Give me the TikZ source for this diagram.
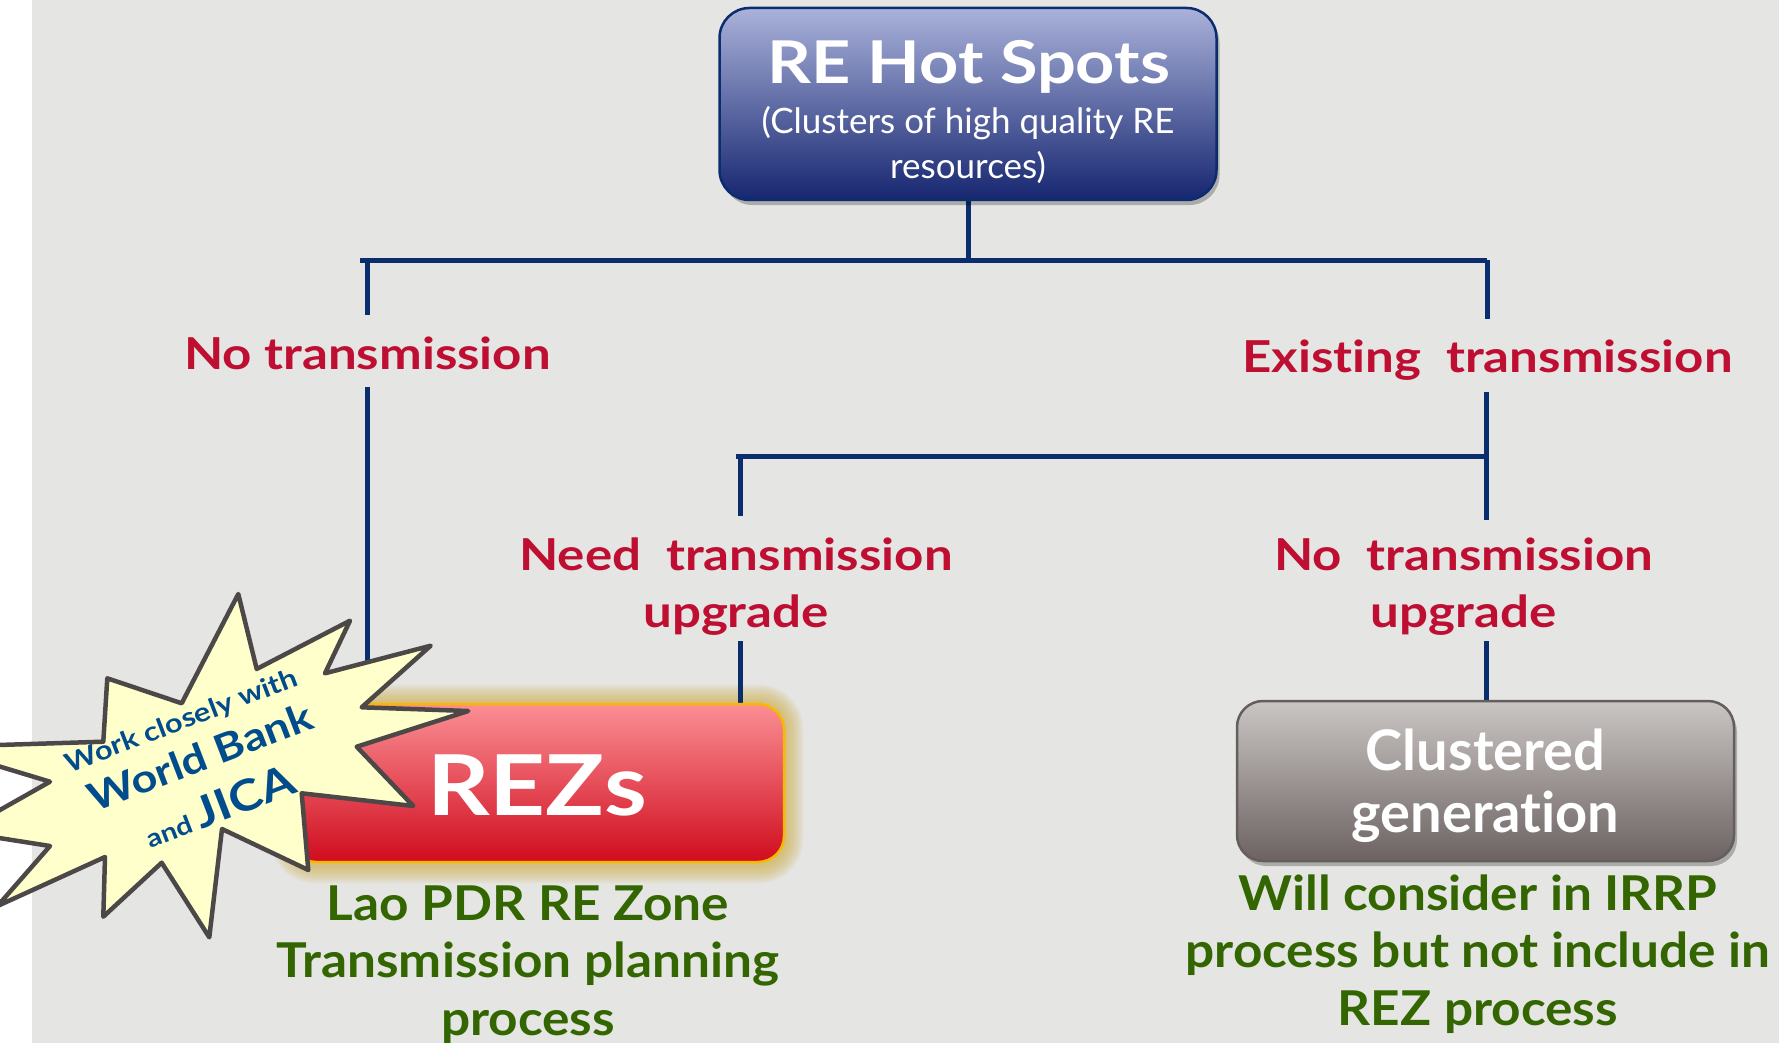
\documentclass[tikz,border=0pt]{standalone}
\usepackage{fontspec}
\setmainfont{Lato}[Ligatures=NoCommon]
\newfontfamily\hb{Lato}[FakeStretch=1.16,Ligatures=NoCommon]
\newfontfamily\gb{Lato}[FakeStretch=1.07,Ligatures=NoCommon]
\usetikzlibrary{calc,shadows}
\definecolor{bggray}{RGB}{229,229,227}
\definecolor{navy}{RGB}{10,45,110}
\definecolor{crim}{RGB}{190,14,50}
\definecolor{grn}{RGB}{51,102,0}
\definecolor{hottop}{RGB}{170,178,218}
\definecolor{hotbot}{RGB}{22,38,112}
\definecolor{reztop}{RGB}{251,143,148}
\definecolor{rezbot}{RGB}{208,12,30}
\definecolor{rezedge}{RGB}{248,184,0}
\definecolor{glowc}{RGB}{205,170,60}
\definecolor{clustop}{RGB}{202,198,196}
\definecolor{clusbot}{RGB}{108,98,98}
\definecolor{clusedge}{RGB}{100,94,94}
\definecolor{staryel}{RGB}{255,255,204}
\definecolor{staredge}{RGB}{77,72,72}
\definecolor{starblue}{RGB}{0,76,140}
\newcommand{\fsz}[2]{\fontsize{#1}{#2}\selectfont}
\pgfdeclarelayer{bgl}
\pgfdeclarelayer{glowl}
\pgfdeclarelayer{linel}
\pgfsetlayers{bgl,glowl,linel,main}
\tikzset{
 link/.style={draw=navy, line width=5pt},
 redlbl/.style={text=crim, font=\hb\bfseries\fsz{44}{57}, inner sep=0pt, align=center},
 grnlbl/.style={text=grn, font=\gb\bfseries\fsz{48}{57.5}, inner sep=0pt, align=center},
 boxsty/.style={rounded corners=26pt, inner sep=0pt, line width=2.5pt},
 shad/.style={drop shadow={shadow xshift=3pt, shadow yshift=-5pt, opacity=0.25, fill=black}},
 startxt/.style={text=starblue, inner sep=0pt, rotate=21},
 starsty/.style={fill=staryel, draw=staredge, line width=4.5pt, line join=round},
}
\begin{document}
\begin{tikzpicture}[x=1pt,y=-1pt]
\useasboundingbox (0,0) rectangle (1779,1043);
\begin{pgfonlayer}{bgl}
\fill[white] (0,0) rectangle (1779,1043);
\fill[bggray] (32,0) rectangle (1779,1043);
\end{pgfonlayer}

% top box
\node[boxsty, rounded corners=30pt, draw=navy, top color=hottop, bottom color=hotbot, minimum width=497pt, minimum height=192pt, shad] (hot) at (968,104) {};
\node[anchor=base, text=white, font=\hb\bfseries\fsz{59}{59}, inner sep=0pt] (hottitle) at (968.8,83.3) {RE Hot Spots};
\node[anchor=base, text=white, font=\fsz{35}{45}, align=center, inner sep=0pt] (hotsub) at (968,178.3) {(Clusters of high quality RE\\resources)};

% labels
\node[redlbl, anchor=base] (notx) at (367.5,369.3) {No transmission};
\node[redlbl, anchor=base] (exist) at (1487.5,372.7) {Existing\ \ transmission};
\node[redlbl, anchor=base] (need) at (736,627) {Need\ \ transmission\\upgrade};
\node[redlbl, anchor=base] (noup) at (1463.7,627) {No\ \ transmission\\upgrade};

% junctions
\coordinate (jtop) at (968,260);
\coordinate (jl) at (367.5,260);
\coordinate (jr) at (1487,260);
\coordinate (jm) at (1486,456);
\coordinate (jn) at (740,456);

% boxes
\node[boxsty, draw=rezedge, top color=reztop, bottom color=rezbot, minimum width=494pt, minimum height=158pt] (rez) at (537,783) {};
\node[anchor=base, text=white, inner sep=0pt, font=\hb\bfseries\fsz{84}{84}] (reztext) at (537,815) {REZs};
\node[boxsty, draw=clusedge, top color=clustop, bottom color=clusbot, minimum width=497pt, minimum height=160pt, shad] (clus) at (1485.5,781) {};
\node[anchor=base, text=white, inner sep=0pt, align=center, font=\bfseries\fsz{56}{62}] (clustext) at (1485.5,832.5) {Clustered\\generation};

% green descriptions
\node[grnlbl, anchor=base] (rezdesc) at (528,1035) {Lao PDR RE Zone\\Transmission planning\\process};
\node[grnlbl, anchor=base] (clusdesc) at (1478,1025) {Will consider in IRRP\\process but not include in\\REZ process};

% glow
\begin{pgfonlayer}{glowl}
\foreach \g in {2,4,...,18}
  \fill[glowc, opacity=0.09, rounded corners={(26+\g)*1pt}] ($(rez.south west)+(-\g,\g+2)$) rectangle ($(rez.north east)+(\g,-\g)$);
\end{pgfonlayer}

% connectors
\begin{pgfonlayer}{linel}
\draw[link] (hot.south) -- (jtop);
\draw[link] ($(jl)+(-8,0)$) -- (jr);
\draw[link] (jl) -- ($(notx.north)+(0,-21)$);
\draw[link] (jr) -- ($(jr |- exist.north)+(0,-21)$);
\draw[link] ($(notx.south)+(0,17)$) -- (notx.south |- rez.north);
\draw[link] ($(jm |- exist.south)+(0,11)$) -- ($(jm |- noup.north)+(0,-17)$);
\draw[link] ($(jn)+(-4,0)$) -- (jm);
\draw[link] (jn) -- ($(jn |- need.north)+(0,-21)$);
\draw[link] ($(jn |- need.south)+(0,6)$) -- (jn |- rez.north);
\draw[link] ($(jm |- noup.south)+(0,6)$) -- (jm |- clus.north);
\end{pgfonlayer}

% starburst
\begin{scope}
\clip (0,0) rectangle (1779,1043);
\draw[starsty] (238.3,594) -- (256.7,669) -- (350,620.7) -- (325,673.3) -- (430.7,645.7) -- (361.7,707.3) -- (468.3,711) -- (356.7,746.7) -- (413.3,806) -- (301.7,793.3) -- (308.3,870) -- (222,829) -- (209.3,937.3) -- (161.7,862.7) -- (103.3,916.7) -- (105,857) -- (-2.5,906) -- (50,846) -- (-39,832) -- (50,781.7) -- (-65,747) -- (103.3,741.7) -- (107.3,678.3) -- (181.7,703.3) -- cycle;
\end{scope}
\node[startxt, font=\hb\bfseries\fsz{26.5}{26.5}] (sw1) at (182,722) {Work closely with};
\node[startxt, font=\hb\bfseries\fsz{39}{39}] (sw2) at (200,757) {World Bank};
\node[startxt, font=\hb\bfseries] (sw3) at (219,806) {{\fsz{25}{25}and }{\fsz{43}{43}JICA}};
\end{tikzpicture}
\end{document}
